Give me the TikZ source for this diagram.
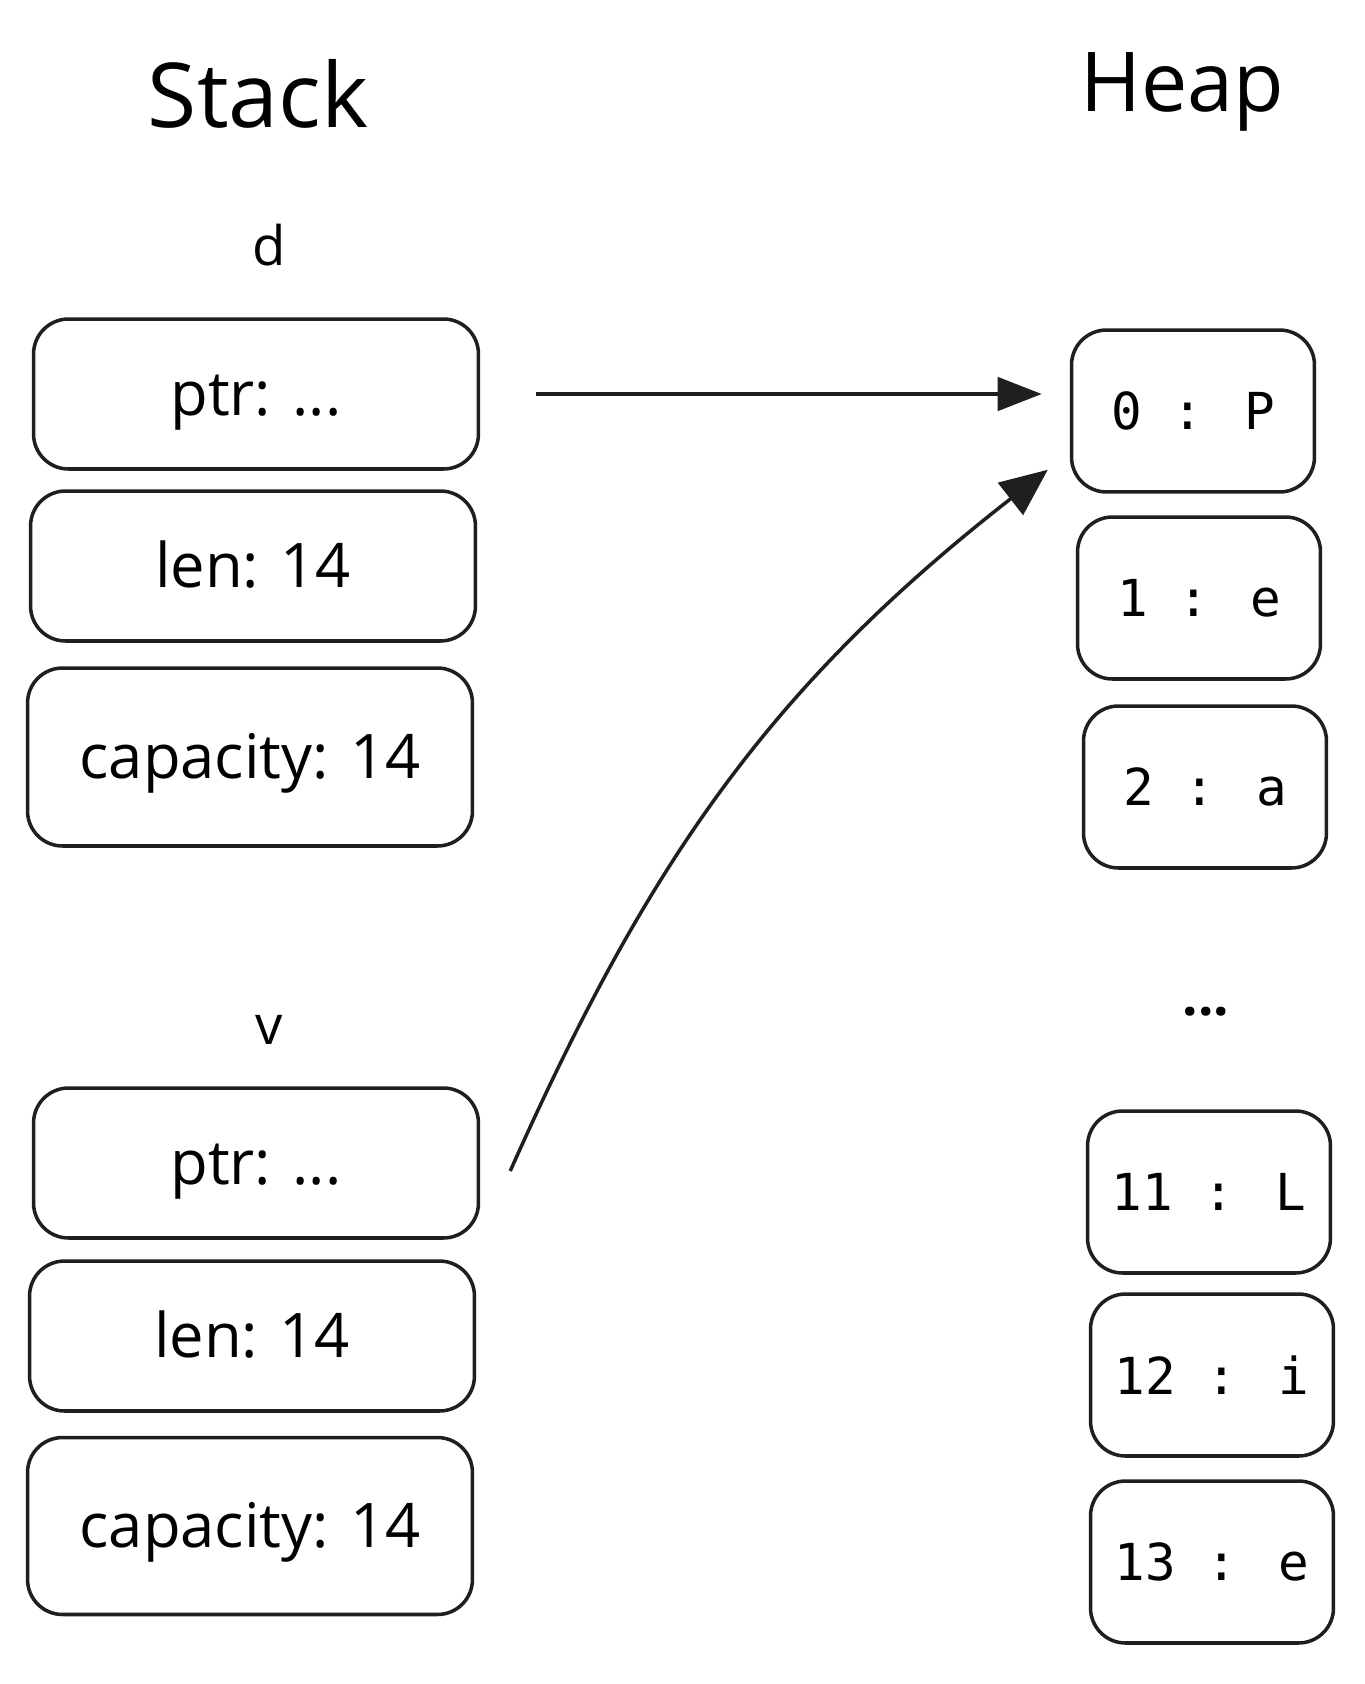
\documentclass[tikz,border=0pt]{standalone}
\usepackage{fontspec}
\usepackage{tikz}
\usetikzlibrary{arrows.meta, calc}
\newfontfamily\sketchfont{Open Sans}
\newfontfamily\cellfont{DejaVu Sans Mono}

\tikzset{
    frame/.style={draw=black!88, line width=2pt, rounded corners=0.7cm, inner sep=0pt},
    stackcell/.style={frame, minimum width=8.9cm, minimum height=3.0cm, text height=25pt, text depth=0pt,
        font=\sketchfont\fontsize{35}{40}\selectfont},
    heapcell/.style={frame, minimum width=4.86cm, minimum height=3.24cm, font=\cellfont\fontsize{29}{34}\selectfont},
    title/.style={font=\sketchfont\fontsize{51}{60}\selectfont},
    varname/.style={font=\sketchfont\fontsize{31}{36}\selectfont},
    link/.style={draw=black!88, line width=2pt}
}

\begin{document}
\begin{tikzpicture}[x=0.02cm, y=-0.02cm]
    \useasboundingbox (0,0) rectangle (1365,1684);

    % Titles of the two columns
    \node[title] (stack) at (258,94) {Stack};
    \node[title, font=\sketchfont\fontsize{47}{56}\selectfont] (heap) at (1182,92) {Heap};

    % The vector d on the stack
    \node[varname] (d) at (269,245) {d};
    \node[stackcell] (dptr) at (256,394) {ptr: ...};
    \node[stackcell] (dlen) at (253,566) {len: 14};
    \node[stackcell, minimum height=3.56cm] (dcap) at (250,757) {capacity: 14};

    % The vector v on the stack
    \node[varname] (v) at (269,1030) {v};
    \node[stackcell] (vptr) at (256,1163) {ptr: ...};
    \node[stackcell] (vlen) at (252,1336) {len: 14};
    \node[stackcell, minimum height=3.54cm] (vcap) at (250,1526) {capacity: 14};

    % The bytes on the heap
    \node[heapcell] (h0) at (1193,411) {0 : P};
    \node[heapcell] (h1) at (1199,598) {1 : e};
    \node[heapcell] (h2) at (1205,787) {2 : a};
    \node[varname, font=\sketchfont\bfseries\fontsize{31}{36}\selectfont] (hdots) at (1206,1012) {...};
    \node[heapcell] (h11) at (1209,1192) {11 : L};
    \node[heapcell] (h12) at (1212,1375) {12 : i};
    \node[heapcell] (h13) at (1212,1562) {13 : e};

    % Free ends of the curved pointer
    \coordinate (vout) at ($(vptr.east)+(30,8)$);
    \coordinate (vin) at ($(h0.south west)+(-22,-24)$);

    % Both pointers lead to the first byte
    \draw[link, -{Triangle[length=25pt, width=19pt]}, shorten <=32pt, shorten >=16pt]
        (dptr.east) -- (dptr.east -| h0.west);
    \draw[link, -{Triangle[length=27pt, width=23pt]}]
        (vout) to[out=66, in=218] (vin);
\end{tikzpicture}
\end{document}
